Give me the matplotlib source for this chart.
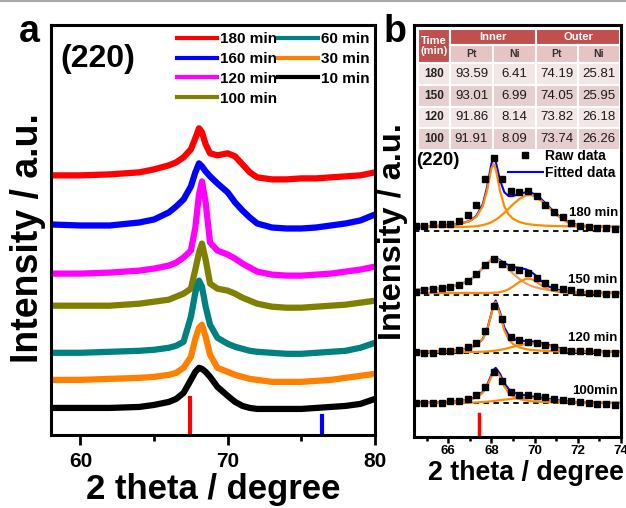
import matplotlib
matplotlib.use('Agg')
import matplotlib.pyplot as plt
from matplotlib.lines import Line2D
from matplotlib.patches import Rectangle

plt.rcParams['font.family'] = ['Liberation Sans', 'DejaVu Sans']
plt.rcParams['font.weight'] = 'bold'

# ---------------- panel a : XRD (220) region ----------------
xa = [58, 60, 62, 64, 65, 66, 66.5, 67, 67.5, 67.8, 68.05, 68.25, 68.5, 68.8,
      69.3, 70, 70.5, 71, 71.5, 72, 73, 74, 75, 76, 77, 78, 79, 80]
i_180 = [259, 259, 260, 262, 265, 269, 272, 277, 285, 296, 306, 302, 290, 281,
         279, 281, 278, 270, 262, 257, 255, 255, 256, 256, 257, 258, 259, 262]
i_160 = [210, 209, 209, 212, 215, 222, 228, 235, 248, 262, 271, 268, 263, 258,
         251, 242, 232, 224, 217, 211, 207, 206, 206, 207, 209, 211, 214, 220]
i_120 = [161, 161, 162, 164, 166, 169, 172, 177, 184, 207, 240, 253, 232, 192,
         184, 180, 176, 171, 167, 163, 160, 159, 159, 160, 161, 163, 165, 168]
i_100 = [129, 129, 129, 131, 133, 135, 138, 141, 146, 165, 182, 191, 175, 151,
         146, 144, 141, 137, 134, 131, 128, 127, 127, 128, 129, 130, 132, 134]
i_60 = [82, 82, 83, 84, 85, 87, 89, 93, 118, 142, 154, 148, 128, 110,
        97, 91, 88, 86, 84, 83, 82, 81, 81, 82, 83, 84, 87, 92]
i_30 = [55, 55, 56, 57, 58, 60, 62, 67, 78, 96, 107, 110, 98, 80,
        67, 63, 60, 58, 56, 55, 53, 53, 53, 54, 55, 57, 59, 61]
i_10 = [27, 27, 27, 28, 30, 33, 36, 42, 55, 63, 67, 66, 63, 58,
        48, 39, 33, 29, 27, 26, 26, 26, 26, 27, 28, 29, 31, 36]
series_a = [i_180, i_160, i_120, i_100, i_60, i_30, i_10]
labels_a = ['180 min', '160 min', '120 min', '100 min', '60 min', '30 min', '10 min']
colors_a = ['#FF0000', '#0000FF', '#FF00FF', '#808000', '#008080', '#FF8000', '#000000']

ref_pt = 67.45   # Pt (220)
ref_ni = 76.37   # Ni (220)
ref_pt_h = 37
ref_ni_h = 19

# ---------------- panel b : peak fitting ----------------
xr = [64.5, 64.9, 65.3, 65.7, 66.1, 66.5, 66.9, 67.3, 67.7, 68.1, 68.5, 68.9,
      69.3, 69.7, 70.1, 70.5, 70.9, 71.3, 71.7, 72.1, 72.5, 72.9, 73.3, 73.7]
raw_180 = [5, 5.3, 7, 6.7, 6.7, 10, 16, 26, 52, 73, 52, 40,
           39, 40, 35, 26, 19, 14, 8, 5.5, 4, 3, 2.7, 2.2]
raw_150 = [3, 5, 6, 7, 8, 10, 14, 21, 30, 36.5, 31.5, 28.5,
           25, 22, 17, 12, 8.5, 6, 5.5, 3.3, 2.5, 1.7, 1.5, 0.7]
raw_120 = [1, 0.5, 0.3, 2, 2.5, 3.5, 6, 10, 22, 47, 34, 16.5,
           13, 11.5, 10.5, 8.5, 6, 3.3, 2, 1.8, 1.8, 0.7, 0.2, 0]
raw_100 = [0, 0.2, 0.3, 0.3, 1.7, 2.4, 4, 8.5, 16.5, 31, 22, 11,
           8.5, 7.8, 7, 5.6, 4.2, 3, 2, 1.2, 0, -0.5, -1.2, -1.7]

xf = [64.4, 65.0, 65.5, 66.0, 66.5, 67.0, 67.3, 67.6, 67.8, 68.0, 68.1, 68.2,
      68.4, 68.6, 68.8, 69.0, 69.3, 69.6, 69.8, 70.0, 70.3, 70.6, 71.0, 71.5,
      72.0, 72.5, 73.0, 74.0]
p1_180 = [0.6, 0.8, 1.1, 1.7, 2.9, 5.8, 10.2, 20.7, 36.4, 58.3, 63, 58.3,
          36.4, 20.7, 12.6, 8.3, 4.9, 3.2, 2.6, 2.1, 1.6, 1.2, 0.9, 0.7,
          0.5, 0.4, 0.3, 0.2]
p2_180 = [0, 0, 0, 0, 0, 0.3, 0.8, 1.9, 3.1, 4.8, 6.0, 7.3,
          10.4, 14.1, 18.3, 22.6, 28.2, 31.6, 32, 30.8, 26.5, 20.5, 12.2, 4.8,
          1.4, 0.3, 0.05, 0]
p1_150 = [3, 4, 4.5, 6, 8, 13, 18, 25, 29, 33.5, 35, 34.5,
          32, 28, 24, 19.5, 14, 9.5, 7.5, 6, 4.3, 3.2, 2, 1.3,
          0.8, 0.5, 0.3, 0.1]
p2_150 = [0, 0, 0, 0, 0, 0, 0, 0, 0, 0.1, 0.2, 0.35,
          0.9, 2.0, 3.8, 6.5, 11.1, 14.2, 14.2, 12.5, 8.0, 3.8, 1.5, 0.3,
          0, 0, 0, 0]
p1_120 = [0.4, 0.6, 0.8, 1.2, 2.0, 3.9, 6.6, 12.7, 21.6, 37.6, 46.2, 50,
          37.6, 21.6, 12.7, 8.0, 4.6, 2.9, 2.2, 1.8, 1.35, 1.0, 0.8, 0.6,
          0.4, 0.3, 0.3, 0.2]
p2_120 = [0, 0, 0, 0, 0, 0.05, 0.1, 0.3, 0.6, 0.9, 1.2, 1.4,
          2.1, 3.0, 4.0, 5.2, 6.8, 8.0, 8.5, 8.5, 7.7, 6.3, 4.0, 1.8,
          0.6, 0.1, 0, 0]
p1_100 = [0.4, 0.5, 0.7, 1.1, 1.7, 3.3, 5.4, 10.2, 16.5, 26.4, 31.1, 33,
          26.4, 16.5, 10.2, 6.6, 3.9, 2.5, 1.9, 1.6, 1.2, 0.9, 0.7, 0.5,
          0.4, 0.3, 0.2, 0.2]
p2_100 = [0, 0, 0, 0, 0.1, 0.3, 0.6, 1.0, 1.3, 1.7, 2.0, 2.2,
          2.8, 3.3, 3.8, 4.3, 4.8, 5.0, 4.9, 4.7, 4.1, 3.3, 2.2, 1.1,
          0.5, 0.15, 0, 0]
bg_b = [4, 2, 1, 0]
base_b = [206, 142, 84, 34]
labels_b = ['180 min', '150 min', '120 min', '100min']
raws_b = [raw_180, raw_150, raw_120, raw_100]
p1s_b = [p1_180, p1_150, p1_120, p1_100]
p2s_b = [p2_180, p2_150, p2_120, p2_100]

# composition table
times = ['180', '150', '120', '100']
inner_pt = ['93.59', '93.01', '91.86', '91.91']
inner_ni = ['6.41', '6.99', '8.14', '8.09']
outer_pt = ['74.19', '74.05', '73.82', '73.74']
outer_ni = ['25.81', '25.95', '26.18', '26.26']

W, H = 626, 508
fig = plt.figure(figsize=(W / 100, H / 100), dpi=100)

# ---------- panel a ----------
axa = fig.add_axes([51 / W, 73 / H, 324 / W, 410 / H])
for vals, lab, col in zip(series_a, labels_a, colors_a):
    axa.plot(xa, vals, color=col, lw=4.5, label=lab, solid_joinstyle='round')
axa.plot([ref_pt, ref_pt], [0, ref_pt_h], color='#FF0000', lw=3)
axa.plot([ref_ni, ref_ni], [0, ref_ni_h], color='#0000FF', lw=3)
axa.set_xlim(58, 80)
axa.set_ylim(0, 409)
axa.set_yticks([])
axa.set_xticks([60, 70, 80])
axa.set_xticks([65, 75], minor=True)
axa.tick_params(axis='x', which='major', direction='out', length=7, width=2,
                labelsize=15, pad=5)
axa.tick_params(axis='x', which='minor', direction='out', length=4, width=2)
for s in axa.spines.values():
    s.set_linewidth(2.2)
axa.set_xlabel('2 theta / degree', fontsize=25, fontweight='bold', labelpad=2)
leg = axa.legend(ncol=2, loc='upper right', bbox_to_anchor=(1.012, 1.005),
                 frameon=False, fontsize=11, handlelength=2.6,
                 handletextpad=0.2, columnspacing=0.1, labelspacing=0.38,
                 borderaxespad=0.2)
for ln in leg.get_lines():
    ln.set_linewidth(3)
fig.text(60 / W, 1 - 67 / H, '(220)', fontsize=23, fontweight='bold', va='baseline')
fig.text(28 / W, 1 - 238 / H, 'Intensity / a.u.', rotation=90, fontsize=27,
         fontweight='bold', ha='center', va='center')
fig.text(19 / W, 1 - 42 / H, 'a', fontsize=27, fontweight='bold', va='baseline')

# ---------- panel b ----------
axb = fig.add_axes([414 / W, 71 / H, 207 / W, 412 / H])
for raw, p1, p2, bg, base, lab in zip(raws_b, p1s_b, p2s_b, bg_b, base_b, labels_b):
    axb.axhline(base, color='black', lw=1.3, ls=(0, (3, 2.5)), zorder=1)
    c1 = '#E8A35E' if lab == '150 min' else '#FF8C00'
    axb.plot(xf, [base + bg + v for v in p1], color=c1, lw=1.6, zorder=2)
    axb.plot(xf, [base + bg + v for v in p2], color='#FF8C00', lw=1.6, zorder=2)
    axb.plot(xf, [base + bg + a + b for a, b in zip(p1, p2)], color='#0000FF',
             lw=1.5, zorder=1.5)
    axb.plot(xr, [base + v for v in raw], ls='none', marker='s', ms=4,
             color='black', zorder=3)
    off = {'180 min': 18, '150 min': 15, '120 min': 15, '100min': 12}[lab]
    axb.text(73.85, base + off, lab, ha='right', va='center', fontsize=9.5,
             fontweight='bold')
axb.plot([ref_pt, ref_pt], [0, 23], color='#FF0000', lw=2.5)
axb.set_xlim(64.42, 74)
axb.set_ylim(0, 412)
axb.set_yticks([])
axb.set_xticks([66, 68, 70, 72, 74])
axb.set_xticks([65, 67, 69, 71, 73], minor=True)
axb.tick_params(axis='x', which='major', direction='out', length=4, width=1.8,
                labelsize=9.5, pad=2)
axb.tick_params(axis='x', which='minor', direction='out', length=3, width=1.8)
for s in axb.spines.values():
    s.set_linewidth(2.2)
axb.set_xlabel('2 theta / degree', fontsize=19.3, fontweight='bold', labelpad=0)
axb.xaxis.set_label_coords(0.54, -0.055)
axb.text(64.5, 277, '(220)', fontsize=13.5, fontweight='bold', va='center')
hb = [Line2D([], [], ls='none', marker='s', ms=4, color='black'),
      Line2D([], [], color='#0000FF', lw=1.5)]
axb.legend(hb, ['Raw data', 'Fitted data'], loc='upper right',
           bbox_to_anchor=(0.975, 0.70), frameon=False, fontsize=10,
           handlelength=2.5, handletextpad=0.2, labelspacing=0.25,
           borderaxespad=0, borderpad=0)
fig.text(393 / W, 1 - 232 / H, 'Intensity / a.u.', rotation=90, fontsize=23.4,
         fontweight='bold', ha='center', va='center')
fig.text(384 / W, 1 - 42 / H, 'b', fontsize=27, fontweight='bold', va='baseline')

# ---------- table ----------
tab = fig.add_axes([418 / W, 1 - 150 / H, 202 / W, 121 / H])
tab.set_xlim(0, 202)
tab.set_ylim(121, 0)
tab.axis('off')
hdr, sub, light, dark = '#C0504D', '#E6C4C3', '#F2E6E6', '#E7CECE'
colx = [0, 32, 75, 118, 160, 202]
rowy = [34, 56, 78, 99, 121]


def cell(x0, y0, x1, y1, fc, txt, color='black', size=8, weight='bold'):
    tab.add_patch(Rectangle((x0, y0), x1 - x0, y1 - y0, facecolor=fc,
                            edgecolor='white', lw=1.5))
    tab.text((x0 + x1) / 2, (y0 + y1) / 2, txt, ha='center', va='center',
             color=color, fontsize=size, fontweight=weight, linespacing=1.0)


cell(0, 0, 32, 34, hdr, 'Time\n(min)', color='white', size=8)
cell(32, 0, 118, 16, hdr, 'Inner', color='white', size=8)
cell(118, 0, 202, 16, hdr, 'Outer', color='white', size=8)
for j, name in enumerate(['Pt', 'Ni', 'Pt', 'Ni']):
    cell(colx[j + 1], 16, colx[j + 2], 34, sub, name, color='#333333', size=7.5)
for i in range(4):
    fc = light if i % 2 == 0 else dark
    y0, y1 = rowy[i], rowy[i + 1]
    cell(colx[0], y0, colx[1], y1, fc, times[i], color='#222222', size=8.5)
    for j, col in enumerate([inner_pt, inner_ni, outer_pt, outer_ni]):
        cell(colx[j + 1], y0, colx[j + 2], y1, fc, col[i], color='#1a1a1a',
             size=9.5, weight='normal')

fig.add_artist(Line2D([0, 1], [1 - 0.5 / H, 1 - 0.5 / H], color='#AAAAAA', lw=1.5))

fig.savefig('out.png', dpi=100)
